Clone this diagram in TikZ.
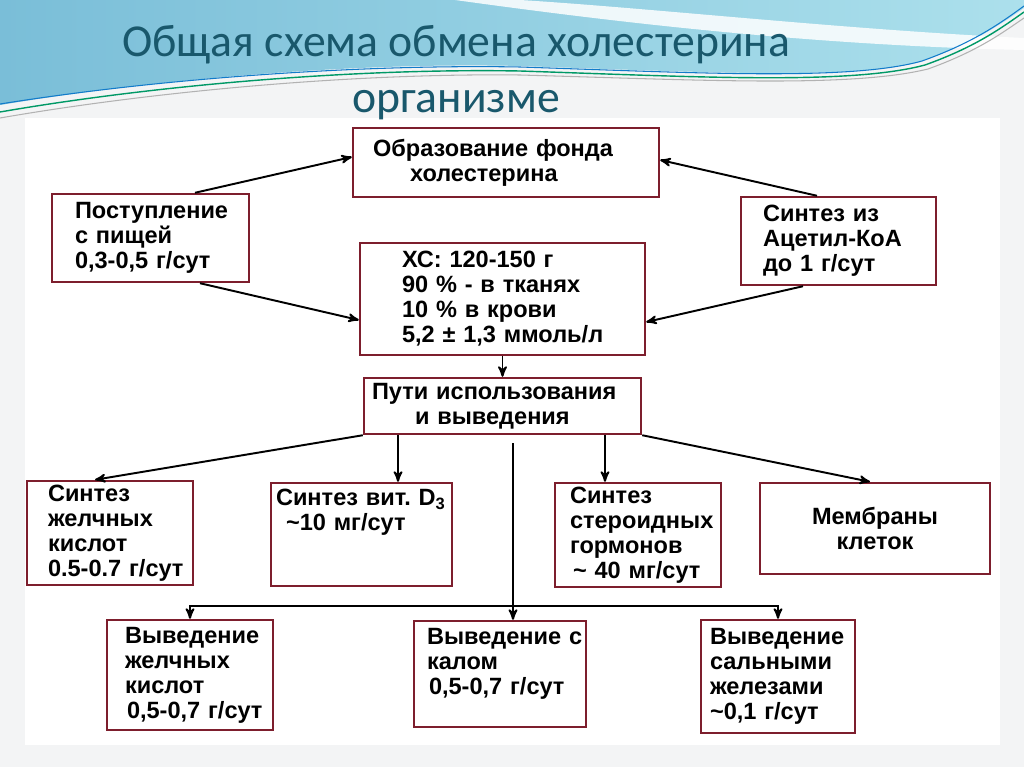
\documentclass[tikz,border=0pt]{standalone}
\usepackage{fontspec}
\setmainfont{Liberation Sans}
\newfontfamily\titlefont{Carlito}
\usetikzlibrary{arrows}
\definecolor{boxred}{RGB}{125,30,45}
\definecolor{titleblue}{RGB}{25,88,108}
\definecolor{wave}{RGB}{122,190,216}
\definecolor{wavelight}{RGB}{172,224,236}
\definecolor{paper}{RGB}{243,244,245}
\hyphenpenalty=10000
\exhyphenpenalty=10000

\begin{document}
\begin{tikzpicture}[x=0.02cm,y=-0.02cm,->,>=stealth',line width=1.1pt,main node/.style={rectangle,draw=boxred,line width=1.4pt,fill=white,align=left,inner ysep=1pt,font=\bfseries\fontsize{13.4}{14.2}\selectfont}]

\useasboundingbox (0,0) rectangle (1024,767);

%background
\fill[paper] (0,0) rectangle (1024,767);
\fill[white] (25,118) rectangle (1000,745);
\shade[left color=wave,right color=wavelight] (0,0) -- (1024,0) -- (1024,8) .. controls (1000,25) and (970,45) .. (920,62) .. controls (850,80) and (700,72) .. (520,66) .. controls (350,62) and (150,80) .. (0,105) -- cycle;
\fill[white,opacity=0.85] (455,0) .. controls (600,20) and (800,45) .. (1024,50) -- (1024,38) .. controls (850,30) and (650,8) .. (520,0) -- cycle;
\draw[-,teal!80!green,line width=0.8pt] (0,112) .. controls (150,86) and (350,68) .. (520,71) .. controls (700,77) and (850,85) .. (925,65) .. controls (975,47) and (1000,29) .. (1024,12);
\draw[-,cyan!60!blue,line width=0.6pt] (0,104) .. controls (150,80) and (350,64) .. (520,67) .. controls (700,73) and (850,81) .. (922,61) .. controls (972,43) and (998,25) .. (1024,6);
\draw[-,gray!60,line width=0.6pt] (0,118) .. controls (150,92) and (350,73) .. (520,75) .. controls (700,80) and (850,88) .. (928,69) .. controls (978,51) and (1002,33) .. (1024,18);

\node[align=center,inner sep=0pt,text=titleblue,font=\titlefont\fontsize{26}{32}\selectfont] (0) at (456,73) {Общая схема обмена холестерина\\организме};

\node[main node,minimum width=6.12cm,minimum height=1.38cm,text width=5.32cm,inner xsep=0.40cm] (1) at (506,162.5) {Образование~фонда\\\hspace*{0.74cm}холестерина};
\node[main node,minimum width=3.94cm,minimum height=1.76cm,text width=3.02cm,inner xsep=0.46cm] (2) at (150.5,238) {Поступление\\с~пищей\\0,3-0,5~г/сут};
\node[main node,minimum width=3.9cm,minimum height=1.76cm,text width=3.02cm,inner xsep=0.44cm] (3) at (838.5,241) {Синтез~из\\Ацетил-КоА\\до~1~г/сут};
\node[main node,minimum width=5.7cm,minimum height=2.24cm,text width=4.02cm,inner xsep=0.84cm] (4) at (502.5,299) {ХС:~120-150~г\\90~\%~-~в~тканях\\10~\%~в~крови\\5,2~±~1,3~ммоль/л};
\node[main node,minimum width=5.54cm,minimum height=1.12cm,text width=5.22cm,inner xsep=0.16cm] (5) at (502.5,406) {Пути~использования\\\hspace*{0.86cm}и~выведения};

\node[main node,minimum width=3.32cm,minimum height=2.08cm,text width=2.48cm,inner xsep=0.42cm] (6) at (110,533) {Синтез\\желчных\\кислот\\0.5-0.7~г/сут};
\node[main node,minimum width=3.62cm,minimum height=2.06cm,text width=3.42cm,inner xsep=0.1cm] (7) at (361.5,534.5) {Синтез~вит.~D\textsubscript{3}\\\hspace*{0.2cm}\textasciitilde10~мг/сут\\\mbox{}\\\mbox{}};
\node[main node,minimum width=3.32cm,minimum height=2.08cm,text width=2.72cm,inner xsep=0.3cm] (8) at (638,535) {Синтез\\стероидных\\гормонов\\\hspace*{0.06cm}\textasciitilde~40~мг/сут};
\node[main node,align=center,minimum width=4.6cm,minimum height=1.82cm] (9) at (875,528.5) {Мембраны\\клеток};

\node[main node,minimum width=3.32cm,minimum height=2.2cm,text width=2.6cm,inner xsep=0.36cm] (10) at (190,675) {Выведение\\желчных\\кислот\\\hspace*{0.04cm}0,5-0,7~г/сут};
\node[main node,minimum width=3.44cm,minimum height=2.12cm,text width=2.92cm,inner xsep=0.26cm] (11) at (500,674) {Выведение~с\\калом\\\hspace*{0.04cm}0,5-0,7~г/сут\\\mbox{}};
\node[main node,minimum width=3.08cm,minimum height=2.26cm,text width=2.72cm,inner xsep=0.18cm] (12) at (778,676.5) {Выведение\\сальными\\железами\\\textasciitilde0,1~г/сут};

%into the pool
\draw ([xshift=0.89cm]2.north) -- ([yshift=0.11cm]1.west);
\draw ([xshift=0.99cm]2.south) -- ([yshift=-0.42cm]4.west);
\draw ([xshift=-0.43cm]3.north) -- ([yshift=0.05cm]1.east);
\draw ([xshift=-0.71cm]3.south) -- ([yshift=-0.46cm]4.east);
\draw (4.south) -- (5.north);

%use
\draw (5.south west) -- ([xshift=-0.3cm]6.north);
\draw ([xshift=-2.09cm]5.south) -- ([xshift=-2.09cm]5.south |- 7.north);
\draw ([xshift=2.05cm]5.south) -- ([xshift=2.05cm]5.south |- 8.north);
\draw (5.south east) -- ([xshift=-0.1cm]9.north);

%excretion
\coordinate (split) at (513,606);
\draw[-] ([xshift=0.21cm,yshift=-0.16cm]5.south) -- (split);
\draw (split) -- (split -| 10.north) -- (10.north);
\draw (split) -- (split |- 11.north);
\draw (split) -- (split -| 12.north) -- (12.north);

\end{tikzpicture}
\end{document}
